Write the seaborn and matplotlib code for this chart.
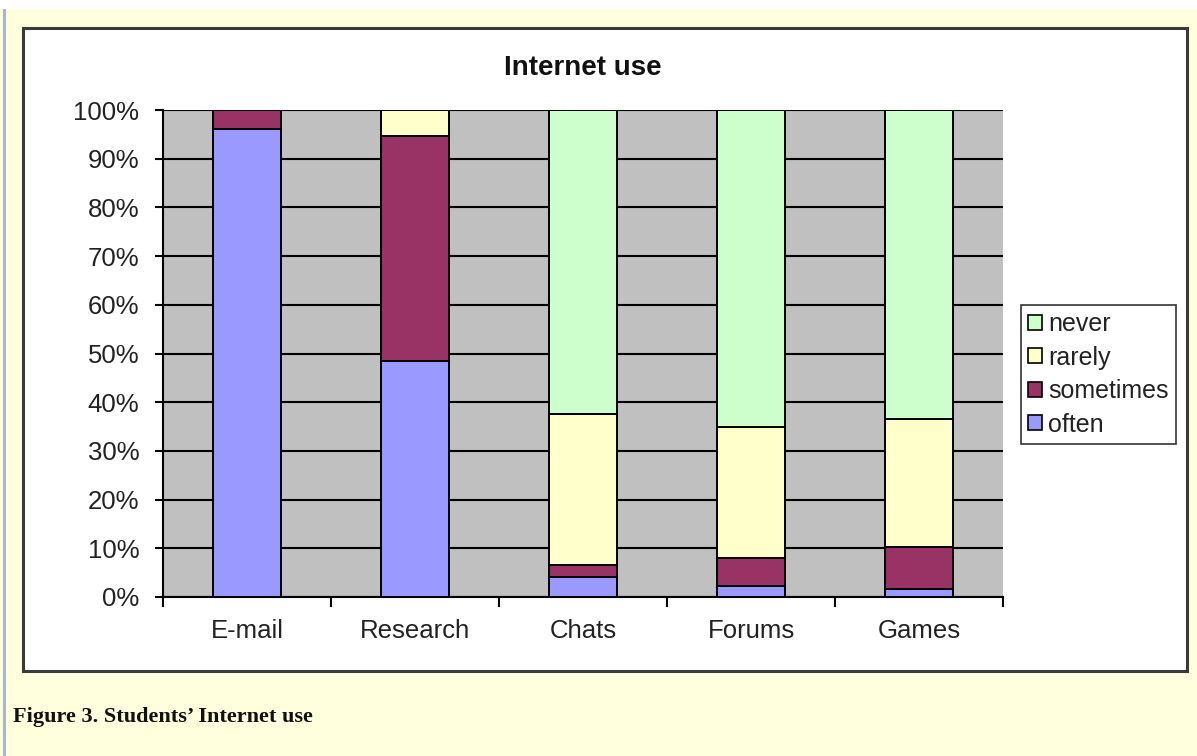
import matplotlib
matplotlib.use("Agg")
import matplotlib.pyplot as plt
import numpy as np
import pandas as pd
import seaborn as sns
from matplotlib.patches import Rectangle, Patch
from matplotlib.ticker import FixedLocator, PercentFormatter

# Share of students (%) by how often they use each Internet service
categories = ["E-mail", "Research", "Chats", "Forums", "Games"]
often = [96.2, 48.5, 4.1, 2.3, 1.6]
sometimes = [3.8, 46.2, 2.5, 5.7, 8.7]
rarely = [0.0, 5.3, 30.9, 26.9, 26.3]
never = [0.0, 0.0, 62.5, 65.1, 63.4]

series_names = ["often", "sometimes", "rarely", "never"]
series_values = [often, sometimes, rarely, never]
series_colors = ["#9999FF", "#993366", "#FFFFCC", "#CCFFCC"]

sns.set_style("white")
plt.rcParams["font.family"] = ["Liberation Sans", "DejaVu Sans"]

W, H = 1197, 756
fig = plt.figure(figsize=(W / 100, H / 100), dpi=100)
fig.patch.set_facecolor("#FFFFDD")


def fx(px):
    return px / W


def fy(py):
    return 1 - py / H


# page decorations: white strip on top, grey-blue rule on the left, white chart frame
fig.patches.append(Rectangle((0, fy(9)), 1, 9 / H, transform=fig.transFigure,
                             facecolor="white", edgecolor="none", zorder=-3))
fig.patches.append(Rectangle((fx(3), 0), 3 / W, fy(9), transform=fig.transFigure,
                             facecolor="#A7B6CB", edgecolor="none", zorder=-3))
fig.patches.append(Rectangle((fx(23), fy(671)), (1187 - 23) / W, (671 - 28) / H,
                             transform=fig.transFigure, facecolor="white",
                             edgecolor="#3A3A3A", linewidth=2.2, zorder=-3))

ax = fig.add_axes([fx(163), fy(597), (1003 - 163) / W, (597 - 110) / H])
ax.set_zorder(1)
ax.set_facecolor("#C0C0C0")

bottom = np.zeros(len(categories))
for name, vals, col in zip(series_names, series_values, series_colors):
    df = pd.DataFrame({"category": categories, "share": vals})
    sns.barplot(data=df, x="category", y="share", order=categories,
                bottom=bottom.copy(), color=col, width=0.405, errorbar=None,
                edgecolor="black", linewidth=1.4, saturation=1, ax=ax, zorder=3)
    bottom = bottom + np.array(vals)

ax.set_xlim(-0.5, len(categories) - 0.5)
ax.set_ylim(0, 100)
ax.yaxis.set_major_locator(FixedLocator(np.arange(0, 101, 10)))
ax.yaxis.set_major_formatter(PercentFormatter(decimals=0))
ax.grid(axis="y", color="black", linewidth=1.5, zorder=1)
ax.grid(axis="x", visible=False)
ax.set_axisbelow(True)

ax.set_xlabel("")
ax.set_ylabel("")
ax.tick_params(axis="y", which="major", direction="out", length=6, width=1.5,
               color="black", labelsize=18.5, labelcolor="#222222", pad=11, left=True)
ax.tick_params(axis="x", which="major", length=0, labelsize=18.5,
               labelcolor="#222222", pad=16)
ax.xaxis.set_minor_locator(FixedLocator(np.arange(-0.5, len(categories), 1.0)))
ax.tick_params(axis="x", which="minor", direction="out", length=7, width=1.5,
               color="black", bottom=True)

for side in ["top", "right"]:
    ax.spines[side].set_visible(False)
for side in ["left", "bottom"]:
    ax.spines[side].set_visible(True)
    ax.spines[side].set_color("black")
    ax.spines[side].set_linewidth(1.5)

fig.text(fx(583), fy(68), "Internet use", ha="center", va="center",
         fontsize=20, fontweight="bold", color="#111111")

handles = [Patch(facecolor=c, edgecolor="black", linewidth=1.2, label=n)
           for n, c in zip(series_names, series_colors)][::-1]
leg = fig.legend(handles=handles, loc="upper left",
                 bbox_to_anchor=(fx(1021), fy(305)), bbox_transform=fig.transFigure,
                 fontsize=18, frameon=True, fancybox=False, borderaxespad=0,
                 borderpad=0.28, labelspacing=0.38, handlelength=0.55,
                 handleheight=0.55, handletextpad=0.25)
leg.get_frame().set_edgecolor("black")
leg.get_frame().set_linewidth(1.2)
leg.get_frame().set_facecolor("white")
for t in leg.get_texts():
    t.set_color("#222222")

fig.text(fx(13), fy(722), "Figure 3. Students\u2019 Internet use", ha="left",
         va="baseline", fontsize=16, fontweight="bold",
         family=["Liberation Serif", "DejaVu Serif"], color="#111111")

fig.savefig("out.png", dpi=100, facecolor=fig.get_facecolor())
